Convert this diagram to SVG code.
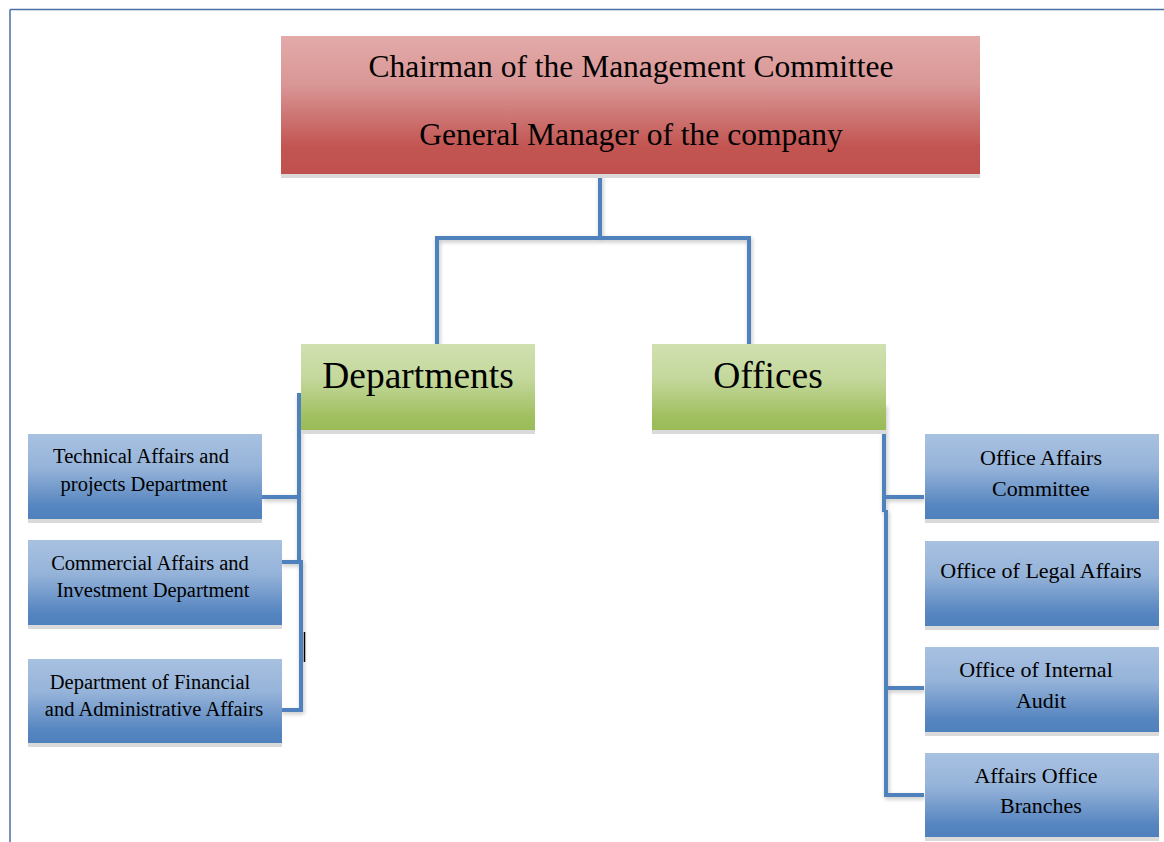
<svg xmlns="http://www.w3.org/2000/svg" width="1164" height="842" viewBox="0 0 1164 842">
<defs>
<linearGradient id="gRed" x1="0" y1="0" x2="0" y2="1">
<stop offset="0" stop-color="#e2aaa9"/><stop offset="0.35" stop-color="#d99796"/><stop offset="0.8" stop-color="#c25552"/><stop offset="1" stop-color="#c0504d"/>
</linearGradient>
<linearGradient id="gGreen" x1="0" y1="0" x2="0" y2="1">
<stop offset="0" stop-color="#d1e0b0"/><stop offset="0.4" stop-color="#c4d89c"/><stop offset="0.85" stop-color="#a0bf5f"/><stop offset="1" stop-color="#9bbb59"/>
</linearGradient>
<linearGradient id="gBlue" x1="0" y1="0" x2="0" y2="1">
<stop offset="0" stop-color="#a8c1e1"/><stop offset="0.4" stop-color="#95b3d9"/><stop offset="0.85" stop-color="#5685c0"/><stop offset="1" stop-color="#4f81bd"/>
</linearGradient>
<filter id="sh" x="-5%" y="-20%" width="110%" height="140%">
<feGaussianBlur in="SourceAlpha" stdDeviation="2"/><feOffset dx="1" dy="2"/>
<feComponentTransfer><feFuncA type="linear" slope="0.25"/></feComponentTransfer>
<feMerge><feMergeNode/><feMergeNode in="SourceGraphic"/></feMerge>
</filter>
</defs>
<style>
.t{font-family:"Liberation Serif","DejaVu Serif",serif;fill:#000;text-anchor:middle}
.top{font-size:31.5px}
.mid{font-size:37.5px}
.sl{font-size:20.5px}
.sr{font-size:22px}
.base{fill:#dadada}
.c{fill:none;stroke:#4f81bd;stroke-width:4;stroke-linejoin:miter}
</style>
<rect x="0" y="0" width="1164" height="842" fill="#fff"/>
<g id="page-border" fill="none" stroke="#4a6fa5" stroke-width="1.5">
<line x1="10" y1="9.5" x2="1164" y2="9.5"/>
<line x1="10" y1="9.5" x2="10" y2="842"/>
</g>

<g id="connectors" filter="url(#sh)">
<path class="c" d="M600 175 V238 M437 238 H749 M437 236 V344 M749 236 V344"/>
<path class="c" d="M299 393 V562 M301 560 V712 M262 497 H300 M281 562 H300 M281 710 H303"/>
<path class="c" d="M884 404 V512 M886 510 V797 M884 497 H924 M886 688 H924 M886 795 H924"/>
</g>
<line x1="304.5" y1="632" x2="304.5" y2="662" stroke="#000" stroke-width="1.5"/>

<g id="node-chairman">
<rect class="base" x="281" y="174" width="699" height="4"/>
<rect x="281" y="36" width="699" height="138" fill="url(#gRed)"/>
<text class="t top" x="631" y="77">Chairman of the Management Committee</text>
<text class="t top" x="631" y="145">General Manager of the company</text>
</g>

<g id="node-departments">
<rect class="base" x="301" y="430" width="234" height="4"/>
<rect x="301" y="344" width="234" height="86" fill="url(#gGreen)"/>
<text class="t mid" x="418" y="388">Departments</text>
</g>

<g id="node-offices">
<rect class="base" x="652" y="430" width="234" height="4"/>
<rect x="652" y="344" width="234" height="86" fill="url(#gGreen)"/>
<text class="t mid" x="768" y="388">Offices</text>
</g>

<g id="node-technical">
<rect class="base" x="28" y="519" width="234" height="4"/>
<rect x="28" y="434" width="234" height="85" fill="url(#gBlue)"/>
<text class="t sl" x="141" y="463">Technical Affairs and</text>
<text class="t sl" x="144" y="491">projects Department</text>
</g>

<g id="node-commercial">
<rect class="base" x="28" y="625" width="254" height="4"/>
<rect x="28" y="540" width="254" height="85" fill="url(#gBlue)"/>
<text class="t sl" x="150" y="570">Commercial Affairs and</text>
<text class="t sl" x="153" y="597">Investment Department</text>
</g>

<g id="node-financial">
<rect class="base" x="28" y="743" width="254" height="4"/>
<rect x="28" y="659" width="254" height="84" fill="url(#gBlue)"/>
<text class="t sl" x="150" y="689">Department of Financial</text>
<text class="t sl" x="154" y="716">and Administrative Affairs</text>
</g>

<g id="node-office-affairs">
<rect class="base" x="925" y="519" width="234" height="4"/>
<rect x="925" y="434" width="234" height="85" fill="url(#gBlue)"/>
<text class="t sr" x="1041" y="465">Office Affairs</text>
<text class="t sr" x="1041" y="496">Committee</text>
</g>

<g id="node-legal">
<rect class="base" x="925" y="626" width="234" height="4"/>
<rect x="925" y="541" width="234" height="85" fill="url(#gBlue)"/>
<text class="t sr" x="1041" y="578">Office of Legal Affairs</text>
</g>

<g id="node-audit">
<rect class="base" x="925" y="732" width="234" height="4"/>
<rect x="925" y="647" width="234" height="85" fill="url(#gBlue)"/>
<text class="t sr" x="1036" y="677">Office of Internal</text>
<text class="t sr" x="1041" y="708">Audit</text>
</g>

<g id="node-branches">
<rect class="base" x="925" y="837" width="234" height="4"/>
<rect x="925" y="753" width="234" height="84" fill="url(#gBlue)"/>
<text class="t sr" x="1036" y="783">Affairs Office</text>
<text class="t sr" x="1041" y="813">Branches</text>
</g>
</svg>
